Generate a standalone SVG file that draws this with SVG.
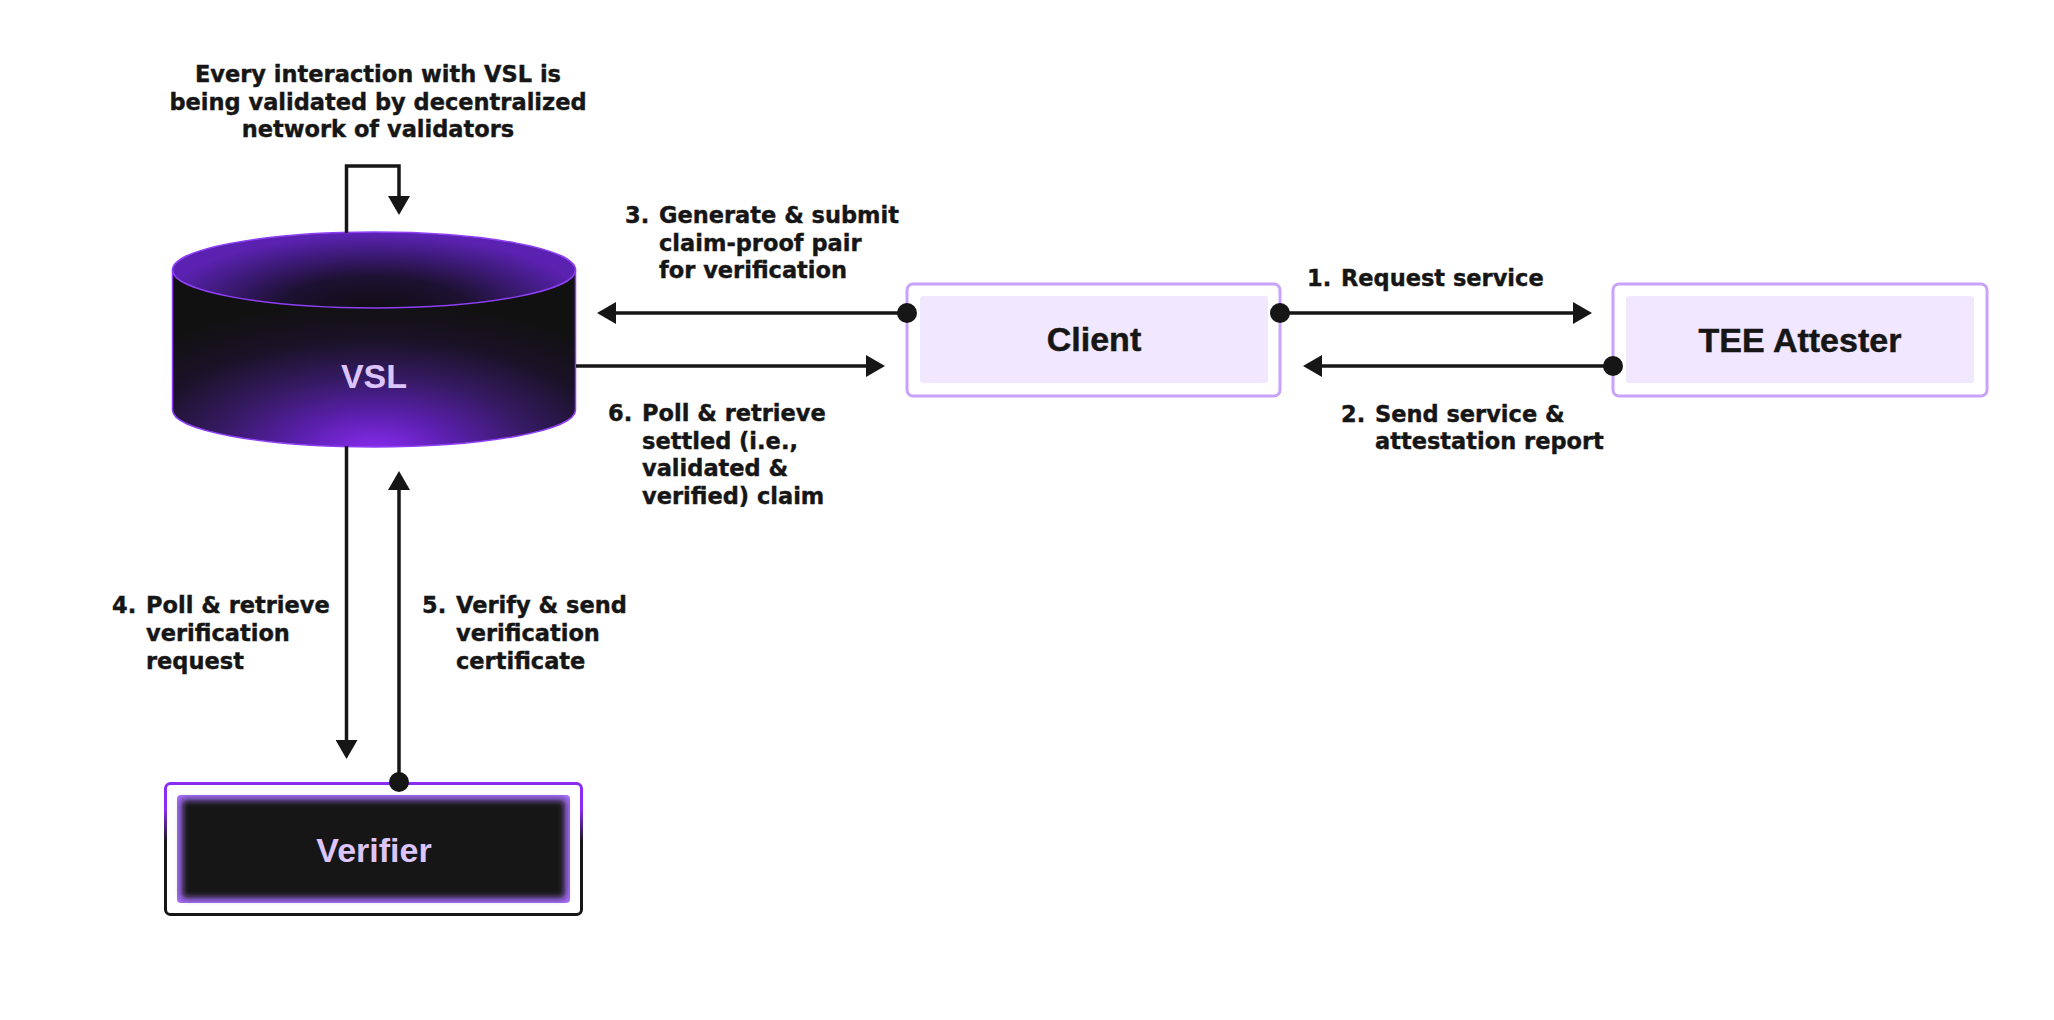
<svg xmlns="http://www.w3.org/2000/svg" width="2054" height="1020" viewBox="0 0 2054 1020">
<style>
.lbl{font-family:"DejaVu Sans",sans-serif;font-weight:700;font-size:22.5px;fill:#161616;stroke:#161616;stroke-width:0.4}
.top{font-family:"DejaVu Sans",sans-serif;font-weight:700;font-size:22.5px;fill:#161616;stroke:#161616;stroke-width:0.4}
.node{font-family:"Liberation Sans",Arial,sans-serif;font-weight:700;font-size:34px;text-anchor:middle}
.dark{fill:#161616;stroke:#161616;stroke-width:0.5}
.light{fill:#dcc5fb}
.conn{fill:none;stroke:#161616;stroke-width:3.5}
.box-outer{fill:#ffffff;stroke:#c9a2fb;stroke-width:3}
.box-inner{fill:#f1e7fe}
</style>
<defs>
<marker id="arrow" viewBox="0 -11 19 22" refX="0" refY="0" markerWidth="19" markerHeight="22" markerUnits="userSpaceOnUse" orient="auto">
<path d="M0,-11 L19,0 L0,11 Z" fill="#161616"/>
</marker>
<marker id="dot" viewBox="-10 -10 20 20" refX="0" refY="0" markerWidth="20" markerHeight="20" markerUnits="userSpaceOnUse" orient="auto">
<circle cx="0" cy="0" r="10" fill="#161616"/>
</marker>
<radialGradient id="bodyGrad" gradientUnits="userSpaceOnUse" cx="374" cy="452" r="200" gradientTransform="translate(374 452) scale(1.6 0.75) translate(-374 -452)">
<stop offset="0" stop-color="#8a2cf2"/>
<stop offset="0.25" stop-color="#5b1fae"/>
<stop offset="0.5" stop-color="#351a62"/>
<stop offset="0.75" stop-color="#1a1227"/>
<stop offset="1" stop-color="#111111"/>
</radialGradient>
<radialGradient id="topGrad" gradientUnits="userSpaceOnUse" cx="374" cy="312" r="78" gradientTransform="translate(374 312) scale(2.8 1) translate(-374 -312)">
<stop offset="0" stop-color="#0e0d10"/>
<stop offset="0.45" stop-color="#1d1132"/>
<stop offset="0.75" stop-color="#3e1a7a"/>
<stop offset="1" stop-color="#5b22b2"/>
</radialGradient>
<linearGradient id="verOuter" x1="0" y1="0" x2="0" y2="1">
<stop offset="0" stop-color="#8a2cf2"/>
<stop offset="0.2" stop-color="#8a2cf2"/>
<stop offset="0.45" stop-color="#161616"/>
<stop offset="1" stop-color="#161616"/>
</linearGradient>
<filter id="blur" x="-10%" y="-10%" width="120%" height="120%">
<feGaussianBlur stdDeviation="3"/>
</filter>
</defs>

<g id="note">
<text class="top" x="378" y="82" text-anchor="middle">Every interaction with VSL is</text>
<text class="top" x="378" y="109.5" text-anchor="middle">being validated by decentralized</text>
<text class="top" x="378" y="137" text-anchor="middle">network of validators</text>
</g>

<g id="vsl">
<path d="M172.5,270 V410 A201.5,37 0 0 0 575.5,410 V270 Z" fill="url(#bodyGrad)" stroke="#8e3ff6" stroke-width="1.5"/>
<ellipse cx="374" cy="270" rx="201.5" ry="38" fill="url(#topGrad)" stroke="#8e3ff6" stroke-width="1.5"/>
<text class="node light" x="374" y="388">VSL</text>
</g>

<g id="client">
<rect class="box-outer" x="907" y="284" width="373" height="112" rx="6"/>
<rect class="box-inner" x="920" y="296" width="348" height="87" rx="3"/>
<text class="node dark" x="1094" y="351">Client</text>
</g>

<g id="tee">
<rect class="box-outer" x="1613" y="284" width="374" height="112" rx="6"/>
<rect class="box-inner" x="1626" y="296" width="348" height="87" rx="3"/>
<text class="node dark" x="1800" y="352">TEE Attester</text>
</g>

<g id="verifier">
<rect x="165.5" y="783.5" width="416" height="131" rx="5" fill="#ffffff" stroke="url(#verOuter)" stroke-width="3"/>
<rect x="177" y="795" width="393" height="108" rx="4" fill="#a56ef8"/>
<rect x="182" y="800" width="383" height="98" rx="3" fill="#151315" filter="url(#blur)"/>
<text class="node light" x="374" y="862">Verifier</text>
</g>

<g id="connectors">
<path class="conn" d="M346.5,233 V166 H399 V196" marker-end="url(#arrow)"/>
<path class="conn" d="M907,313 H616" marker-start="url(#dot)" marker-end="url(#arrow)"/>
<path class="conn" d="M576,366 H866" marker-end="url(#arrow)"/>
<path class="conn" d="M1280,313 H1573" marker-start="url(#dot)" marker-end="url(#arrow)"/>
<path class="conn" d="M1613,366 H1322" marker-start="url(#dot)" marker-end="url(#arrow)"/>
<path class="conn" d="M346.5,446 V740" marker-end="url(#arrow)"/>
<path class="conn" d="M399,782 V490" marker-start="url(#dot)" marker-end="url(#arrow)"/>
</g>

<g id="labels">
<text class="lbl" x="1307" y="286">1.</text>
<text class="lbl" x="1341" y="286">Request service</text>
<text class="lbl" x="1341" y="421.5">2.</text>
<text class="lbl" x="1375" y="421.5">Send service &amp;</text>
<text class="lbl" x="1375" y="449">attestation report</text>
<text class="lbl" x="625" y="223">3.</text>
<text class="lbl" x="659" y="223">Generate &amp; submit</text>
<text class="lbl" x="659" y="250.5">claim-proof pair</text>
<text class="lbl" x="659" y="278">for verification</text>
<text class="lbl" x="608" y="421">6.</text>
<text class="lbl" x="642" y="421">Poll &amp; retrieve</text>
<text class="lbl" x="642" y="448.5">settled (i.e.,</text>
<text class="lbl" x="642" y="476">validated &amp;</text>
<text class="lbl" x="642" y="504">verified) claim</text>
<text class="lbl" x="112" y="613">4.</text>
<text class="lbl" x="146" y="613">Poll &amp; retrieve</text>
<text class="lbl" x="146" y="641">verification</text>
<text class="lbl" x="146" y="669">request</text>
<text class="lbl" x="422" y="613">5.</text>
<text class="lbl" x="456" y="613">Verify &amp; send</text>
<text class="lbl" x="456" y="641">verification</text>
<text class="lbl" x="456" y="669">certificate</text>
</g>
</svg>
